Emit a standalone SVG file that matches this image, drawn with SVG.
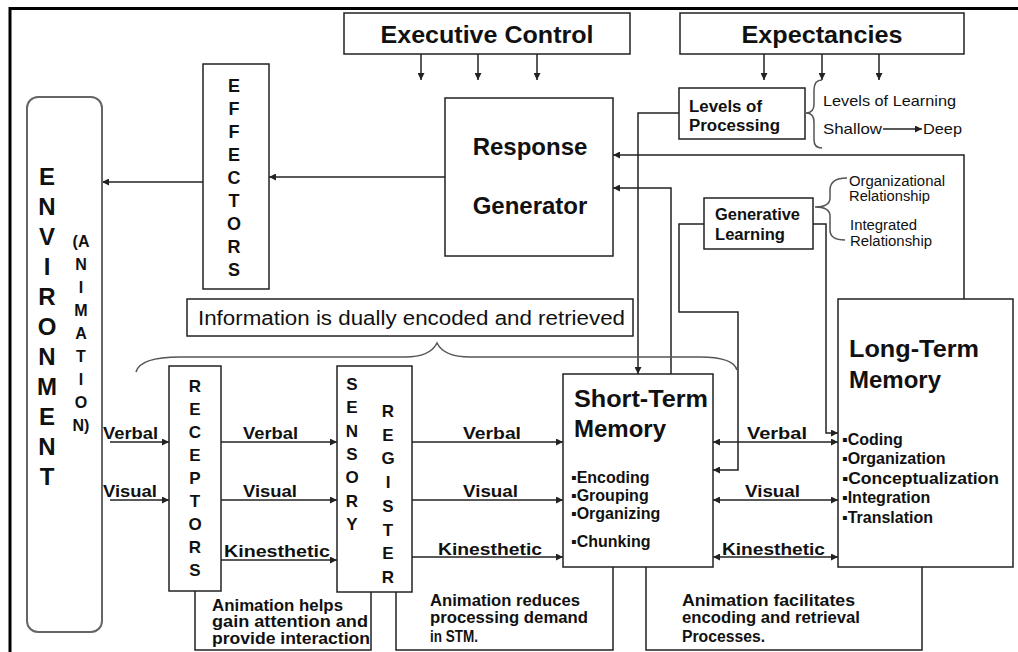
<svg xmlns="http://www.w3.org/2000/svg" width="1018" height="652" viewBox="0 0 1018 652">
<style>
.box{fill:#fff;stroke:#222;stroke-width:1.5}
.ln{fill:none;stroke:#222;stroke-width:1.5}
.br{fill:none;stroke:#555;stroke-width:1.5}
text{font-family:"Liberation Sans",Arial,sans-serif;fill:#111}
.b{font-weight:bold}
.lab{font-weight:bold;font-size:17px}
.big{font-weight:bold;font-size:24px}
.note{font-weight:bold;font-size:16px}
.thin{font-size:14px}
</style>
<defs>
<marker id="ah" viewBox="0 0 10 10" refX="10" refY="5" markerWidth="8" markerHeight="7" markerUnits="userSpaceOnUse" orient="auto-start-reverse">
<path d="M0,0 L10,5 L0,10 z" fill="#222"/>
</marker>
</defs>
<rect width="1018" height="652" fill="#fff"/>
<path d="M10,652 V8.5 H1018" fill="none" stroke="#000" stroke-width="3"/>

<g id="connectors">
<path class="ln" d="M203,182 H102" marker-end="url(#ah)"/>
<path class="ln" d="M445,177 H269" marker-end="url(#ah)"/>
<path class="ln" d="M421,54 V80" marker-end="url(#ah)"/>
<path class="ln" d="M478,54 V80" marker-end="url(#ah)"/>
<path class="ln" d="M537,54 V80" marker-end="url(#ah)"/>
<path class="ln" d="M764,54 V80" marker-end="url(#ah)"/>
<path class="ln" d="M822,54 V80" marker-end="url(#ah)"/>
<path class="ln" d="M879,54 V80" marker-end="url(#ah)"/>
<path class="ln" d="M679,113 H638 V374" marker-end="url(#ah)"/>
<path class="ln" d="M964,299 V155 H613" marker-end="url(#ah)"/>
<path class="ln" d="M671,374 V188 H613" marker-end="url(#ah)"/>
<path class="ln" d="M704,224 H679 V312 H738 V470 H713" marker-end="url(#ah)"/>
<path class="ln" d="M813,224 H826 V433 H838" marker-end="url(#ah)"/>
<path class="ln" d="M110,442 H169" marker-end="url(#ah)"/>
<path class="ln" d="M110,500 H169" marker-end="url(#ah)"/>
<path class="ln" d="M221,442 H337" marker-end="url(#ah)"/>
<path class="ln" d="M221,500 H337" marker-end="url(#ah)"/>
<path class="ln" d="M221,560 H337" marker-end="url(#ah)"/>
<path class="ln" d="M412,442 H563" marker-end="url(#ah)"/>
<path class="ln" d="M412,500 H563" marker-end="url(#ah)"/>
<path class="ln" d="M412,557 H563" marker-end="url(#ah)"/>
<path class="ln" d="M713,442 H838" marker-start="url(#ah)" marker-end="url(#ah)"/>
<path class="ln" d="M713,500 H838" marker-start="url(#ah)" marker-end="url(#ah)"/>
<path class="ln" d="M713,557 H838" marker-start="url(#ah)" marker-end="url(#ah)"/>
<path class="ln" d="M883,129 H922" marker-end="url(#ah)"/>
<path class="br" d="M822,80 Q814,80 814,90 V104 Q814,113 806,113 Q814,113 814,122 V140 Q814,148 822,148"/>
<path class="br" d="M847,178 Q830,178 830,190 V198 Q830,207 815,207 Q830,207 830,216 V230 Q830,240 845,240"/>
<path class="br" d="M136,372 Q140,357 180,357 H405 Q430,357 437,343 Q444,357 470,357 H700 Q733,357 737,370"/>
</g>

<g id="environment">
<rect x="27" y="97" width="75" height="535" rx="11" fill="none" stroke="#666" stroke-width="2"/>
<text class="big" text-anchor="middle"><tspan x="47" y="185">E</tspan><tspan x="47" y="215">N</tspan><tspan x="47" y="245">V</tspan><tspan x="47" y="275">I</tspan><tspan x="47" y="305">R</tspan><tspan x="47" y="335">O</tspan><tspan x="47" y="365">N</tspan><tspan x="47" y="395">M</tspan><tspan x="47" y="425">E</tspan><tspan x="47" y="455">N</tspan><tspan x="47" y="485">T</tspan></text>
<text class="b" font-size="16" text-anchor="middle"><tspan x="81" y="247">(A</tspan><tspan x="81" y="270">N</tspan><tspan x="81" y="293">I</tspan><tspan x="81" y="316">M</tspan><tspan x="81" y="339">A</tspan><tspan x="81" y="362">T</tspan><tspan x="81" y="385">I</tspan><tspan x="81" y="408">O</tspan><tspan x="81" y="431">N)</tspan></text>
</g>

<g id="effectors">
<rect class="box" x="203" y="64" width="66" height="225"/>
<text class="b" font-size="18" text-anchor="middle"><tspan x="234" y="92">E</tspan><tspan x="234" y="115">F</tspan><tspan x="234" y="138">F</tspan><tspan x="234" y="161">E</tspan><tspan x="234" y="184">C</tspan><tspan x="234" y="207">T</tspan><tspan x="234" y="230">O</tspan><tspan x="234" y="253">R</tspan><tspan x="234" y="276">S</tspan></text>
</g>

<g id="executive-control">
<rect class="box" x="344" y="13" width="286" height="41"/>
<text class="big" x="487" y="43" text-anchor="middle" textLength="213" lengthAdjust="spacingAndGlyphs">Executive Control</text>
</g>

<g id="expectancies">
<rect class="box" x="680" y="13" width="284" height="41"/>
<text class="big" x="822" y="43" text-anchor="middle" textLength="161" lengthAdjust="spacingAndGlyphs">Expectancies</text>
</g>

<g id="response-generator">
<rect class="box" x="445" y="98" width="168" height="158"/>
<text class="big" x="530" y="155" text-anchor="middle">Response</text>
<text class="big" x="530" y="214" text-anchor="middle">Generator</text>
</g>

<g id="levels-of-processing">
<rect class="box" x="679" y="88" width="126" height="51"/>
<text class="b" font-size="16" x="689" y="112" textLength="73" lengthAdjust="spacingAndGlyphs">Levels of</text>
<text class="b" font-size="16" x="689" y="131" textLength="91" lengthAdjust="spacingAndGlyphs">Processing</text>
</g>

<g id="levels-of-learning">
<text font-size="15" x="823" y="106" textLength="133" lengthAdjust="spacingAndGlyphs">Levels of Learning</text>
<text font-size="15" x="823" y="134" textLength="59" lengthAdjust="spacingAndGlyphs">Shallow</text>
<text font-size="15" x="923" y="134" textLength="39" lengthAdjust="spacingAndGlyphs">Deep</text>
</g>

<g id="generative-learning">
<rect class="box" x="704" y="198" width="109" height="51"/>
<text class="b" font-size="16" x="715" y="220" textLength="85" lengthAdjust="spacingAndGlyphs">Generative</text>
<text class="b" font-size="16" x="715" y="240" textLength="70" lengthAdjust="spacingAndGlyphs">Learning</text>
</g>

<g id="relationships">
<text class="thin" x="849" y="186" textLength="96" lengthAdjust="spacingAndGlyphs">Organizational</text>
<text class="thin" x="849" y="201" textLength="81" lengthAdjust="spacingAndGlyphs">Relationship</text>
<text class="thin" x="850" y="230" textLength="67" lengthAdjust="spacingAndGlyphs">Integrated</text>
<text class="thin" x="850" y="246" textLength="82" lengthAdjust="spacingAndGlyphs">Relationship</text>
</g>

<g id="info-note">
<rect class="box" x="187" y="299" width="446" height="37"/>
<text font-size="20" x="198" y="325" textLength="427" lengthAdjust="spacingAndGlyphs">Information is dually encoded and retrieved</text>
</g>

<g id="receptors">
<rect class="box" x="169" y="366" width="52" height="225"/>
<text class="b" font-size="17" text-anchor="middle"><tspan x="195" y="392">R</tspan><tspan x="195" y="415">E</tspan><tspan x="195" y="438">C</tspan><tspan x="195" y="461">E</tspan><tspan x="195" y="484">P</tspan><tspan x="195" y="507">T</tspan><tspan x="195" y="530">O</tspan><tspan x="195" y="553">R</tspan><tspan x="195" y="576">S</tspan></text>
</g>

<g id="sensory-register">
<rect class="box" x="337" y="366" width="75" height="226"/>
<text class="b" font-size="17" text-anchor="middle"><tspan x="352" y="390">S</tspan><tspan x="352" y="413">E</tspan><tspan x="352" y="437">N</tspan><tspan x="352" y="460">S</tspan><tspan x="352" y="483">O</tspan><tspan x="352" y="507">R</tspan><tspan x="352" y="530">Y</tspan></text>
<text class="b" font-size="17" text-anchor="middle"><tspan x="388" y="417">R</tspan><tspan x="388" y="441">E</tspan><tspan x="388" y="464">G</tspan><tspan x="388" y="488">I</tspan><tspan x="388" y="512">S</tspan><tspan x="388" y="536">T</tspan><tspan x="388" y="559">E</tspan><tspan x="388" y="583">R</tspan></text>
</g>

<g id="short-term-memory">
<rect class="box" x="563" y="374" width="150" height="193"/>
<text class="big" x="574" y="407" textLength="134" lengthAdjust="spacingAndGlyphs">Short-Term</text>
<text class="big" x="574" y="437">Memory</text>
<text class="b" font-size="16" x="571" y="483">▪Encoding</text>
<text class="b" font-size="16" x="571" y="501">▪Grouping</text>
<text class="b" font-size="16" x="571" y="519">▪Organizing</text>
<text class="b" font-size="16" x="571" y="547">▪Chunking</text>
</g>

<g id="long-term-memory">
<rect class="box" x="838" y="299" width="175" height="268"/>
<text class="big" x="849" y="357" textLength="130" lengthAdjust="spacingAndGlyphs">Long-Term</text>
<text class="big" x="849" y="388">Memory</text>
<text class="b" font-size="16" x="842" y="445">▪Coding</text>
<text class="b" font-size="16" x="842" y="464">▪Organization</text>
<text class="b" font-size="16" x="842" y="484" textLength="157" lengthAdjust="spacingAndGlyphs">▪Conceptualization</text>
<text class="b" font-size="16" x="842" y="503">▪Integration</text>
<text class="b" font-size="16" x="842" y="523">▪Translation</text>
</g>

<g id="channel-labels">
<text class="lab" x="103" y="439" textLength="55" lengthAdjust="spacingAndGlyphs">Verbal</text>
<text class="lab" x="103" y="497" textLength="54" lengthAdjust="spacingAndGlyphs">Visual</text>
<text class="lab" x="243" y="439" textLength="55" lengthAdjust="spacingAndGlyphs">Verbal</text>
<text class="lab" x="243" y="497" textLength="54" lengthAdjust="spacingAndGlyphs">Visual</text>
<text class="lab" x="224" y="557" textLength="106" lengthAdjust="spacingAndGlyphs">Kinesthetic</text>
<text class="lab" x="463" y="439" textLength="58" lengthAdjust="spacingAndGlyphs">Verbal</text>
<text class="lab" x="463" y="497" textLength="55" lengthAdjust="spacingAndGlyphs">Visual</text>
<text class="lab" x="438" y="555" textLength="104" lengthAdjust="spacingAndGlyphs">Kinesthetic</text>
<text class="lab" x="747" y="439" textLength="60" lengthAdjust="spacingAndGlyphs">Verbal</text>
<text class="lab" x="745" y="497" textLength="55" lengthAdjust="spacingAndGlyphs">Visual</text>
<text class="lab" x="722" y="555" textLength="103" lengthAdjust="spacingAndGlyphs">Kinesthetic</text>
</g>

<g id="note-attention">
<path class="ln" d="M195,591 V650 H371 V592"/>
<text class="note" x="212" y="611" textLength="131" lengthAdjust="spacingAndGlyphs">Animation helps</text>
<text class="note" x="212" y="627" textLength="156" lengthAdjust="spacingAndGlyphs">gain attention and</text>
<text class="note" x="212" y="644" textLength="158" lengthAdjust="spacingAndGlyphs">provide interaction</text>
</g>

<g id="note-processing">
<path class="ln" d="M396,592 V650 H613 V567"/>
<text class="note" x="430" y="606" textLength="150" lengthAdjust="spacingAndGlyphs">Animation reduces</text>
<text class="note" x="430" y="623" textLength="158" lengthAdjust="spacingAndGlyphs">processing demand</text>
<text class="note" x="430" y="642" textLength="48" lengthAdjust="spacingAndGlyphs">in STM.</text>
</g>

<g id="note-encoding">
<path class="ln" d="M646,567 V650 H922 V567"/>
<text class="note" x="682" y="606" textLength="173" lengthAdjust="spacingAndGlyphs">Animation facilitates</text>
<text class="note" x="682" y="623" textLength="178" lengthAdjust="spacingAndGlyphs">encoding and retrieval</text>
<text class="note" x="682" y="642" textLength="83" lengthAdjust="spacingAndGlyphs">Processes.</text>
</g>
</svg>
